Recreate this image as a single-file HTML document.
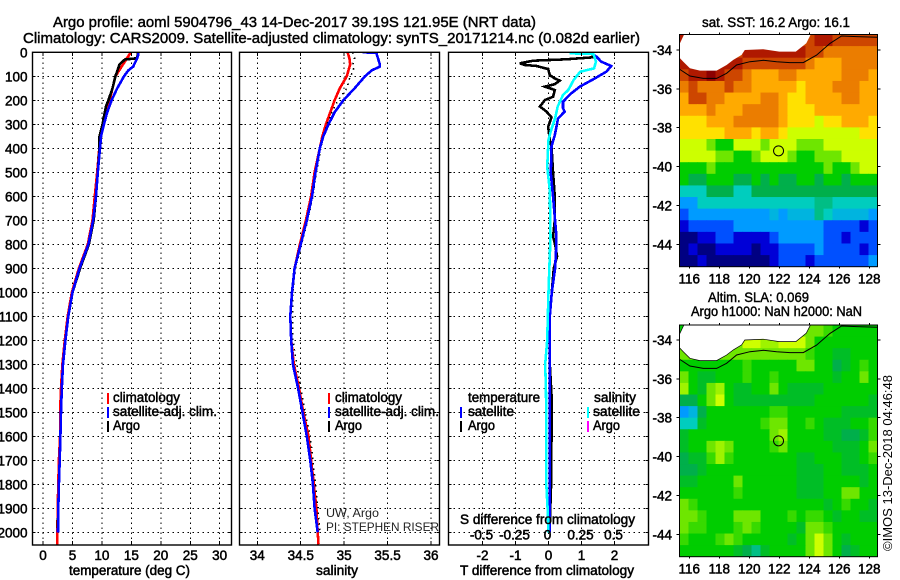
<!DOCTYPE html>
<html>
<head>
<meta charset="utf-8">
<title>Argo profile</title>
<style>
html,body{margin:0;padding:0;background:#fff;width:900px;height:580px;overflow:hidden}
svg{display:block}
text{font-family:"Liberation Sans",sans-serif;fill:#000}
.b{font-size:13.5px;stroke:#000;stroke-width:.5px}
.t{font-size:14.5px;stroke:#000;stroke-width:.42px}
.n{font-size:12px;fill:#222}
</style>
</head>
<body>
<svg id="chart" width="900" height="580" viewBox="0 0 900 580" xmlns="http://www.w3.org/2000/svg">
<defs>
<clipPath id="clip-p1"><rect x="32.5" y="52.3" width="199" height="493"/></clipPath>
<clipPath id="clip-p2"><rect x="239.5" y="52.3" width="200" height="493"/></clipPath>
<clipPath id="clip-p3"><rect x="448.5" y="52.3" width="200" height="493"/></clipPath>
<clipPath id="clip-m1"><rect x="679.5" y="34.5" width="198" height="232"/></clipPath>
<clipPath id="clip-m2"><rect x="679.5" y="325" width="198" height="232"/></clipPath>
</defs>
<g id="grid"></g>
<g id="series"></g>
<g id="maps"></g>
<g id="axes"></g>

<text class="t" x="53" y="27" textLength="483" lengthAdjust="spacingAndGlyphs">Argo profile: aoml 5904796_43 14-Dec-2017 39.19S 121.95E (NRT data)</text>
<text class="t" x="23" y="43" textLength="617" lengthAdjust="spacingAndGlyphs">Climatology: CARS2009. Satellite-adjusted climatology: synTS_20171214.nc (0.082d earlier)</text>

<text class="b" x="69" y="575" textLength="121" lengthAdjust="spacingAndGlyphs">temperature (deg C)</text>
<text class="b" x="316" y="575" textLength="42" lengthAdjust="spacingAndGlyphs">salinity</text>
<text class="b" x="460" y="575" textLength="174" lengthAdjust="spacingAndGlyphs">T difference from climatology</text>
<text class="b" x="460" y="524" textLength="175" lengthAdjust="spacingAndGlyphs">S difference from climatology</text>

<g>
<rect x="107" y="393" width="2" height="11" fill="#f00"/>
<rect x="107" y="407" width="2" height="11" fill="#00f"/>
<rect x="107" y="421" width="2" height="11" fill="#000"/>
<text class="b" x="113" y="402" textLength="67" lengthAdjust="spacingAndGlyphs">climatology</text>
<text class="b" x="113" y="416" textLength="104" lengthAdjust="spacingAndGlyphs">satellite-adj. clim.</text>
<text class="b" x="113" y="430" textLength="27" lengthAdjust="spacingAndGlyphs">Argo</text>
</g>
<g>
<rect x="328" y="393" width="2" height="11" fill="#f00"/>
<rect x="328" y="407" width="2" height="11" fill="#00f"/>
<rect x="328" y="421" width="2" height="11" fill="#000"/>
<text class="b" x="335" y="402" textLength="67" lengthAdjust="spacingAndGlyphs">climatology</text>
<text class="b" x="335" y="416" textLength="104" lengthAdjust="spacingAndGlyphs">satellite-adj. clim.</text>
<text class="b" x="335" y="430" textLength="27" lengthAdjust="spacingAndGlyphs">Argo</text>
</g>
<g>
<text class="b" x="468" y="402" textLength="72" lengthAdjust="spacingAndGlyphs">temperature</text>
<text class="b" x="594" y="402" textLength="42" lengthAdjust="spacingAndGlyphs">salinity</text>
<rect x="460" y="407" width="2" height="11" fill="#00f"/>
<rect x="460" y="421" width="2" height="11" fill="#000"/>
<rect x="587" y="407" width="2" height="11" fill="#0ff"/>
<rect x="587" y="421" width="2" height="11" fill="#f0f"/>
<text class="b" x="468" y="416" textLength="46" lengthAdjust="spacingAndGlyphs">satellite</text>
<text class="b" x="468" y="430" textLength="27" lengthAdjust="spacingAndGlyphs">Argo</text>
<text class="b" x="593" y="416" textLength="47" lengthAdjust="spacingAndGlyphs">satellite</text>
<text class="b" x="593" y="430" textLength="27" lengthAdjust="spacingAndGlyphs">Argo</text>
</g>

<text class="n" x="326" y="517" textLength="53" lengthAdjust="spacingAndGlyphs">UW, Argo</text>
<text class="n" x="326" y="531" textLength="113" lengthAdjust="spacingAndGlyphs">PI: STEPHEN RISER</text>

<text class="t" x="702" y="27" style="font-size:13.5px" textLength="148" lengthAdjust="spacingAndGlyphs">sat. SST: 16.2 Argo: 16.1</text>
<text class="t" x="708" y="302" style="font-size:13.5px" textLength="101" lengthAdjust="spacingAndGlyphs">Altim. SLA: 0.069</text>
<text class="t" x="691" y="316" style="font-size:13.5px" textLength="171" lengthAdjust="spacingAndGlyphs">Argo h1000: NaN h2000: NaN</text>
<text transform="translate(892,551) rotate(-90)" style="font-size:13px" textLength="176" lengthAdjust="spacingAndGlyphs">©IMOS 13-Dec-2018 04:46:48</text>

<script>
// ---- Profile data ----
var depthTicks = [0,100,200,300,400,500,600,700,800,900,1000,1100,1200,1300,1400,1500,1600,1700,1800,1900,2000];
var tempTicks = [0,5,10,15,20,25,30];
var salTicks = [34,34.5,35,35.5,36];
var salTickLabels = ["34","34.5","35","35.5","36"];
var tDiffTicks = [-2,-1,0,1,2];
var sDiffTicks = [-0.5,-0.25,0,0.25,0.5];
var sDiffTickLabels = ["-0.5","-0.25","0","0.25","0.5"];

var tempClimDepth = [0,50,100,200,300,400,500,600,700,800,900,1000,1100,1200,1300,1400,1500,1600,1700,1800,1900,2000,2050];
var tempClim = [14.9,13.6,12.3,11.3,10.1,9.56,9.2,8.8,8.4,7.6,6.1,4.9,4.2,3.7,3.3,3.05,2.9,2.9,2.7,2.6,2.5,2.45,2.45];

var tempSatDepth = [0,10,25,60,75,100,150,200,250,300,350,400,500,600,700,800,900,1000,1100,1200,1300,1400,1500,1600,1700,1800,1900,2000];
var tempSat = [16.2,16.2,16.0,15.3,14.5,13.75,12.6,11.65,10.9,10.35,9.85,9.68,9.3,9.0,8.5,7.7,6.2,5.0,4.3,3.8,3.4,3.2,3.05,2.95,2.83,2.7,2.6,2.55];

var tempArgoDepth = [0,10,25,30,50,100,150,200,225,250,300,350,400,500,600,700,800,900,1000,1100,1200,1300,1400,1500,1600,1700,1800,1900,2000];
var tempArgo = [16.1,16.1,15.9,13.9,13,12.3,11.8,11.1,10.7,10.5,10.1,9.6,9.6,9.3,9.0,8.6,7.8,6.3,5.0,4.3,3.8,3.4,3.2,3.05,2.95,2.83,2.7,2.6,2.5];

var salClimDepth = [0,25,50,100,150,200,250,300,350,400,500,600,700,800,900,1000,1100,1200,1300,1400,1500,1600,1700,1800,1900,2000,2050];
var salClim = [35.04,35.06,35.07,35.03,34.95,34.89,34.84,34.79,34.75,34.72,34.66,34.62,34.56,34.49,34.43,34.40,34.38,34.39,34.42,34.48,34.53,34.59,34.62,34.65,34.68,34.695,34.705];

var salSatDepth = [0,2,25,50,60,75,100,150,200,250,300,350,400,500,600,700,800,900,1000,1100,1200,1300,1400,1500,1600,1700,1800,1900,2000];
var salSat = [35.21,35.37,35.39,35.41,35.41,35.32,35.24,35.12,34.99,34.89,34.82,34.76,34.72,34.67,34.63,34.57,34.5,34.43,34.4,34.38,34.39,34.41,34.47,34.52,34.57,34.61,34.64,34.66,34.695];

var salArgoDepth = [0,25,50,75,100,150,200,250,300,400,500,600,700,800,900,1000,1200,1400,1500,1600,1700,1800,1900,2000];
var salArgo = [35.1,35.12,35.1,35.11,35.07,35.03,34.93,34.86,34.8,34.73,34.68,34.64,34.58,34.51,34.44,34.41,34.41,34.5,34.55,34.61,34.64,34.67,34.7,34.72];

var dTempArgoDepth = [4,21,29,35,46,53,57,70,95,109,118,133,143,157,185,199,226,247,271,310,365,393,504,602,699,768,800,850,900,1000,1100,1200,1300,1450,1550,1700,1800,2000];
var dTempArgo = [1.33,1.35,0.54,-0.46,-0.87,-0.71,-0.36,-0.01,0.04,0.19,0.34,0.19,-0.11,0.19,0.14,-0.11,-0.26,-0.06,0.09,-0.01,0.04,0.09,0.14,0.19,0.19,0.14,0.2,0.26,0.16,0.1,0.04,0.04,0.04,0.1,0.1,0.08,0.08,0.03];

var dTempSatDepth = [4,18,39,57,81,109,143,171,206,233,247,275,345,393,504,602,768,800,900,1000,1100,1400,2000];
var dTempSat = [1.3,1.45,1.6,1.9,1.75,1.4,0.95,0.69,0.44,0.44,0.49,0.29,0.19,0.09,0.07,0.14,0.24,0.24,0.2,0.1,0.04,0.04,0.03];

var dSalSatDepth = [4,7,39,67,81,116,157,178,226,275,324,365,477,574,768,1000,1200,1300,1400,1500,1700,1800,1900,2000];
var dSalSat = [0.16,0.34,0.36,0.345,0.24,0.19,0.15,0.11,0.07,0.05,0.02,0,-0.01,0.01,0.015,0,-0.01,-0.025,-0.02,-0.017,-0.017,-0.017,-0.007,0];

// ---- Map data: estimated colour-scale level per block, top row first ----
var lonTicks = [116,118,120,122,124,126,128];
var latTicks = [-34,-36,-38,-40,-42,-44];
var argoLon = 121.95;
var argoLat = -39.19;

var sstGrid = [
[13,12,12,12,12,12,12,12,12,12,12,12,12,12,12,13,13,12,12,12,12,12],
[12,12,12,12,12,12,12,13,13,13,13,13,13,13,12,12,11,11,11,11,11,11],
[13,13,13,13,13,13,13,12,12,12,12,12,12,12,11,10,10,10,11,11,11,11],
[12,13,13,14,13,12,12,11,10,10,10,11,11,10,10,10,10,10,11,11,11,10],
[11,12,11,11,11,12,11,11,10,10,10,10,10,9,10,10,10,11,11,11,10,10],
[10,12,12,11,11,10,10,10,10,11,11,10,9,9,10,10,10,10,11,11,10,10],
[10,10,10,11,10,10,10,11,11,11,11,10,9,9,9,10,10,10,10,10,10,10],
[9,9,9,10,10,10,11,11,11,11,11,10,9,9,9,8,9,9,10,10,10,9],
[9,9,9,9,9,10,10,10,9,10,10,9,8,8,8,8,8,8,8,8,9,9],
[8,8,8,7,6,6,8,8,8,7,8,8,8,7,7,7,8,8,8,8,8,8],
[8,8,8,8,7,7,6,6,7,8,8,8,7,6,6,7,7,7,8,8,8,8],
[6,6,6,7,6,6,6,6,6,6,6,6,6,6,6,6,7,6,6,7,8,8],
[6,5,5,6,6,6,5,5,6,5,6,5,5,6,6,5,6,6,5,6,6,6],
[4,4,4,5,5,5,4,4,5,5,5,5,5,5,5,5,5,5,5,5,5,5],
[3,3,4,4,4,4,4,4,4,4,4,4,4,4,4,4.5,4.5,4,4,4,4,4],
[2,3,3,3,3,3,3,3,3,3,3.5,3,3.5,3.5,3.5,4.5,4,3.5,3.5,3.5,3.5,3],
[1,2,2,2,2,2,3,3,3,3,3,3,3,3,3,3,2,2,2,2,1,2],
[0,0,1,1,2,2,1,1,1,1,2,3,3,3,3,3,2,2,1,2,2,2],
[0,1,0,0,1,1,1,1,0,1,1,2,2,2,2,3,2,2,2,2,1,2],
[0,0,1,0,0,0,0,0,0,0,1,2,2,2,1,2,2,2,2,2,2,3]
];

var slaGrid = [
[6,7,7,7,7,7,7,7,7,7,7,7,7,7,7,7,6.5,6,6,6,6,6],
[7,7,7,7,7,7,7,8,8,7.5,7.5,8,8,8,7,6,6,6,6,6,6,6],
[7,7,7,7,7,7,7,7,7,7,7,7,7,7,6.5,6,6,5.5,5.5,6,6,6],
[6,6,6,6,6,6,6,6.5,6,6,6,6,6,7,7,6,6,5,5.5,6,6.5,6],
[7,6,5.5,5.5,6,6,6,6.5,6,6,6.5,6,6,6,6,6,6,5.5,6,6,7,6],
[7.5,6,5.5,7,7.5,6,5.5,5.5,6,6,7,6,5.5,5.5,5.5,5.5,6,6,6,6,6,6],
[5,5,6,7,8,6,5.5,5.5,5.5,5.5,5.5,5.5,5.5,5.5,5.5,6,6,6,6,6,6,5.5],
[3,3.5,5,6,6,6,6,6,6,6,6.5,6.5,6,6,6,6,6,6,5.5,5.5,5.5,5.5],
[4,4,5.5,6,6,6,6,6,6,6.5,7,7,6,6,6.5,6,5.5,5.5,5.5,6,6,6.5],
[5.5,6,6,6,6,6,6,6,6,6,7,7.5,6,6,6,6,5.5,5.5,5,5,5.5,6.5],
[5.5,6,6,7,7.5,7,6,6,6,6,6.5,7,6,6,6,6,6,5.5,5.5,5.5,6,7],
[5,5.5,5.5,6.5,7.5,6.5,6,6,6,6,6,6,6,5.5,5.5,6,6,6,5.5,5.5,6,6.5],
[5,5,5.5,6,6,6,6,6,6,6,6,6,6,5.5,5.5,5.5,6,6,5.5,5.5,5.5,6],
[5.5,5.5,6,6,6,6,7,6,6,6,6,6,6,5.5,5.5,5.5,6,6,6,6,5.5,6],
[6,6,6,6,6,6,6.5,6,6,6,6,6,6,5.5,5.5,5.5,6,6,7,7,6,6],
[7,6.5,6,6,6,6,6,6,6,6,6,6,6,6,6,6,5.5,6,6.5,6,6,5.5],
[7,7,6.5,6,6,6,7,7,7,6,6,6,6.5,6,6.5,6.5,6,5.5,6,6,5.5,5.5],
[7,6.5,6.5,6,6,6,6.5,7,6.5,6,6,6,6,5.5,7,7,6.5,6,6,6,6,6],
[6.5,6,6,6,6.5,7,6.5,6,6,6,6,6,5.5,6,7,8,7,6,5.5,6,6,6],
[6,6,6,6,6,6,5.5,5,4.5,5.5,6,6,6,6,7,8,7,6,5,5.5,6,6]
];

var coastLon = [115.66,115.33,115.33,115.6,116.04,116.71,117.82,118.49,118.93,119.49,119.7,120.93,122,123.1,123.8,124.1];
var coastLat = [-33.19,-33.74,-34.38,-34.6,-34.94,-35.06,-35.06,-34.77,-34.51,-34.25,-34,-33.96,-34.08,-34.08,-33.65,-33.19];
var contourLon = [115.33,116.04,116.93,117.82,118.49,119.15,120.04,120.93,121.82,122.71,123.6,124.49,125.38,126.15,127.15,128.53];
var contourLat = [-34.98,-35.34,-35.46,-35.46,-35.2,-34.77,-34.6,-34.53,-34.6,-34.65,-34.65,-34.26,-33.66,-33.28,-33.31,-33.34];

// ---- Axis functions ----
var SVGNS = "http://www.w3.org/2000/svg";
function yDepth(d){ return 52.3 + d*0.24; }
function xTemp(v){ return 43 + v*5.89; }
function xSal(v){ return 257.3 + (v-34)*86.85; }
function xDT(v){ return 548.5 + v*33.0; }
function xDS(v){ return 548.5 + v*132.0; }
function xLon(v){ return 689.3 + (v-116)*15; }
function yLatTop(v){ return 50 + (-34-v)*19.43; }
function yLatBot(v){ return 340 + (-34-v)*19.43; }

var levelStops = [[0,0,0,130],[1,0,0,215],[2,0,80,255],[3,0,155,255],[4,0,205,190],[5,0,175,75],[6,0,205,0],[7,110,230,0],[8,205,255,0],[9,255,225,0],[10,255,170,0],[11,235,125,0],[12,205,70,0],[13,175,25,0],[14,140,0,0]];
function levelColor(v){
  var i = Math.max(0, Math.min(levelStops.length-2, Math.floor(v)));
  var f = Math.max(0, Math.min(1, v-i));
  var a = levelStops[i], b = levelStops[i+1];
  return "rgb(" + Math.round(a[1]+(b[1]-a[1])*f) + "," + Math.round(a[2]+(b[2]-a[2])*f) + "," + Math.round(a[3]+(b[3]-a[3])*f) + ")";
}
function mk(tag, parent){
  var el = document.createElementNS(SVGNS, tag);
  parent.appendChild(el);
  return el;
}
var gGrid = document.getElementById("grid");
var gSeries = document.getElementById("series");
var gMaps = document.getElementById("maps");
var gAxes = document.getElementById("axes");

function seg(parent, x1, y1, x2, y2, name, dash, w){
  var el = mk("line", parent);
  
  
  el.setAttribute("x1", x1); el.setAttribute("y1", y1);
  el.setAttribute("x2", x2); el.setAttribute("y2", y2);
  el.setAttribute("stroke", "#000");
  el.setAttribute("stroke-width", w || 1);
  el.setAttribute("shape-rendering", "crispEdges");
  if (dash) el.setAttribute("stroke-dasharray", dash);
  return el;
}
function label(parent, x, y, str, anchor, name){
  var el = mk("text", parent);
  
  
  el.setAttribute("class", "b");
  el.setAttribute("x", x); el.setAttribute("y", y);
  el.setAttribute("text-anchor", anchor);
  el.textContent = str;
  return el;
}
function frame(parent, x, y, w, h, name, sw){
  var el = mk("rect", parent);
  
  
  el.setAttribute("x", x); el.setAttribute("y", y);
  el.setAttribute("width", w); el.setAttribute("height", h);
  el.setAttribute("fill", "none");
  el.setAttribute("stroke", "#000");
  el.setAttribute("stroke-width", sw);
  return el;
}
function profile(depths, vals, xf, color, clip, name, dash){
  var pts = [];
  for (var i = 0; i < depths.length; i++) pts.push(xf(vals[i]).toFixed(1) + "," + yDepth(depths[i]).toFixed(1));
  var el = mk("polyline", gSeries);
  
  
  el.setAttribute("points", pts.join(" "));
  el.setAttribute("fill", "none");
  el.setAttribute("stroke", color);
  el.setAttribute("stroke-width", dash ? 1.6 : 2.6);
  el.setAttribute("shape-rendering", "crispEdges");
  el.setAttribute("clip-path", "url(#" + clip + ")");
  if (dash) el.setAttribute("stroke-dasharray", dash);
  return el;
}

// ---- Profile panels: grid, ticks, labels ----
var panels = [
  {l:32.5, r:231.5, ticks:tempTicks, xf:xTemp, labels:tempTicks, name:"temperature"},
  {l:239.5, r:439.5, ticks:salTicks, xf:xSal, labels:salTickLabels, name:"salinity"},
  {l:448.5, r:648.5, ticks:tDiffTicks, xf:xDT, labels:tDiffTicks, name:"t-difference"}
];
panels.forEach(function(p){
  depthTicks.forEach(function(d){
    seg(gGrid, p.l, yDepth(d), p.r, yDepth(d), p.name + "-depth-gridline", "1.5 3.5");
    seg(gAxes, p.l, yDepth(d), p.l+3, yDepth(d), p.name + "-depth-tick");
    seg(gAxes, p.r-3, yDepth(d), p.r, yDepth(d), p.name + "-depth-tick");
  });
  p.ticks.forEach(function(v, i){
    seg(gGrid, p.xf(v), 52.3, p.xf(v), 545, p.name + "-x-gridline", "1.5 3.5");
    seg(gAxes, p.xf(v), 541, p.xf(v), 545, p.name + "-x-tick");
    seg(gAxes, p.xf(v), 52.3, p.xf(v), 56, p.name + "-x-tick");
    label(gAxes, p.xf(v), 560, String(p.labels[i]), "middle", p.name + "-x-tick-label");
  });
  frame(gAxes, p.l, 52.3, p.r-p.l, 492.7, p.name + "-panel-frame", 1.4);
});
depthTicks.forEach(function(d){
  label(gAxes, 27.5, yDepth(d)+5, String(d), "end", "depth-tick-label");
});
sDiffTicks.forEach(function(v, i){
  label(gAxes, xDS(v)-1, 539.5, sDiffTickLabels[i], "middle", "s-difference-tick-label");
});

// ---- Profile series ----
profile(tempClimDepth, tempClim, xTemp, "#f00", "clip-p1", "temperature-climatology-line");
profile(tempArgoDepth, tempArgo, xTemp, "#000", "clip-p1", "temperature-argo-line");
profile(tempSatDepth, tempSat, xTemp, "#00f", "clip-p1", "temperature-satellite-line");
profile(salClimDepth, salClim, xSal, "#f00", "clip-p2", "salinity-climatology-line");
profile(salArgoDepth, salArgo, xSal, "#000", "clip-p2", "salinity-argo-line", "1.5 4");
profile(salSatDepth, salSat, xSal, "#00f", "clip-p2", "salinity-satellite-line");
profile(dTempArgoDepth, dTempArgo, xDT, "#000", "clip-p3", "t-difference-argo-line");
profile(dTempSatDepth, dTempSat, xDT, "#00f", "clip-p3", "t-difference-satellite-line");
profile(dSalSatDepth, dSalSat, xDS, "#0ff", "clip-p3", "s-difference-satellite-line");

// ---- Maps ----
function drawMap(grid, top, bottom, yf, clip, prefix, outlineCoast){
  var left = 679.5, right = 877.5;
  var rows = grid.length, cols = grid[0].length;
  var cw = (right-left)/cols, ch = (bottom-top)/rows;
  var g = mk("g", gMaps);
  
  
  g.setAttribute("clip-path", "url(#" + clip + ")");
  for (var r = 0; r < rows; r++) {
    for (var c = 0; c < cols; c++) {
      var cell = mk("rect", g);
      
      
      cell.setAttribute("x", (left + c*cw).toFixed(2));
      cell.setAttribute("y", (top + r*ch).toFixed(2));
      cell.setAttribute("width", (cw+0.6).toFixed(2));
      cell.setAttribute("height", (ch+0.6).toFixed(2));
      cell.setAttribute("fill", levelColor(grid[r][c]));
    }
  }
  var landPts = [];
  coastLon.forEach(function(lo, i){ landPts.push(xLon(lo).toFixed(1) + "," + yf(coastLat[i]).toFixed(1)); });
  var land = mk("polygon", g);
  
  
  land.setAttribute("points", landPts.join(" "));
  land.setAttribute("fill", "#fff");
  if (outlineCoast) { land.setAttribute("stroke", "#000"); land.setAttribute("stroke-width", "0.7"); }
  var cPts = [];
  contourLon.forEach(function(lo, i){ cPts.push(xLon(lo).toFixed(1) + "," + yf(contourLat[i]).toFixed(1)); });
  var contour = mk("polyline", g);
  
  
  contour.setAttribute("points", cPts.join(" "));
  contour.setAttribute("fill", "none");
  contour.setAttribute("stroke", "#000");
  contour.setAttribute("stroke-width", "1");
  var mark = mk("circle", g);
  
  
  mark.setAttribute("cx", xLon(argoLon));
  mark.setAttribute("cy", yf(argoLat));
  mark.setAttribute("r", 5);
  mark.setAttribute("fill", "none");
  mark.setAttribute("stroke", "#000");
  mark.setAttribute("stroke-width", "1");

  frame(gAxes, left, top, right-left, bottom-top, prefix + '-map-frame', 1);
  lonTicks.forEach(function(v){
    seg(gAxes, xLon(v), top-2, xLon(v), top, prefix + "-lon-tick");
    seg(gAxes, xLon(v), bottom, xLon(v), bottom+2, prefix + "-lon-tick");
    label(gAxes, xLon(v), bottom+17, String(v), "middle", prefix + "-lon-label");
  });
  latTicks.forEach(function(v){
    seg(gAxes, left-3, yf(v), left, yf(v), prefix + "-lat-tick");
    seg(gAxes, right, yf(v), right+3, yf(v), prefix + "-lat-tick");
    label(gAxes, 672, yf(v)+5, String(v), "end", prefix + "-lat-label");
  });
}
drawMap(sstGrid, 34.5, 266.7, yLatTop, "clip-m1", "sst", false);
drawMap(slaGrid, 325, 556.7, yLatBot, "clip-m2", "sla", true);
</script>
</svg>
</body>
</html>
